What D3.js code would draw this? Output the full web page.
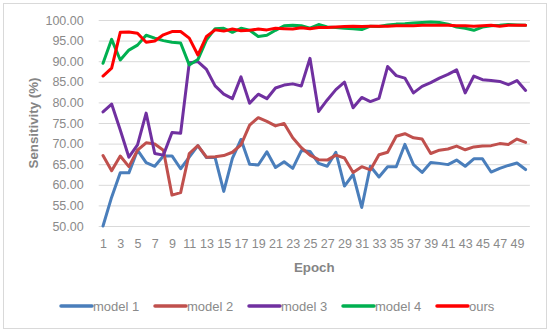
<!DOCTYPE html>
<html>
<head>
<meta charset="utf-8">
<script src="https://cdn.jsdelivr.net/npm/d3@7"></script>
<style>
  body { margin: 0; background: #fff; }
  text { font-family: "Liberation Sans", Arial, sans-serif; }
</style>
</head>
<body>
<div id="chart"></div>
<script>
// epochs on the category axis
const epochs = [1, 2, 3, 4, 5, 6, 7, 8, 9, 10, 11, 12, 13, 14, 15, 16, 17, 18, 19, 20,
  21, 22, 23, 24, 25, 26, 27, 28, 29, 30, 31, 32, 33, 34, 35, 36, 37, 38, 39, 40,
  41, 42, 43, 44, 45, 46, 47, 48, 49, 50];

const model1 = [50.0, 57.0, 62.9, 62.9, 68.4, 65.4, 64.5, 67.0, 67.0, 63.9,
  66.7, 69.5, 66.6, 66.6, 58.4, 66.4, 71.0, 65.0, 64.8, 68.0,
  64.2, 65.6, 64.0, 68.3, 68.1, 65.2, 64.5, 67.9, 59.7, 62.5,
  54.5, 64.5, 61.9, 64.4, 64.4, 69.8, 64.9, 63.0, 65.4, 65.2,
  64.9, 66.0, 64.5, 66.3, 66.3, 63.1, 64.0, 64.7, 65.3, 63.7];

const model2 = [67.1, 63.4, 67.0, 64.4, 68.4, 70.2, 69.9, 68.4, 57.5, 58.1,
  67.6, 69.5, 66.7, 66.8, 67.1, 67.9, 69.7, 74.5, 76.3, 75.4,
  74.3, 74.9, 71.4, 69.0, 67.2, 66.1, 66.0, 67.2, 66.5, 63.0,
  64.4, 63.6, 67.3, 67.9, 71.8, 72.4, 71.4, 71.1, 67.6, 68.4,
  68.7, 69.4, 68.5, 69.2, 69.4, 69.5, 70.0, 69.8, 71.1, 70.3];

const model3 = [77.7, 79.6, 73.3, 66.7, 69.7, 77.4, 67.6, 67.2, 72.7, 72.5,
  89.6, 89.9, 88.0, 84.0, 82.0, 80.9, 86.2, 79.8, 82.0, 80.9,
  83.5, 84.2, 84.5, 84.0, 90.7, 77.8, 80.6, 83.1, 84.9, 78.7,
  81.2, 80.2, 81.0, 88.7, 86.5, 85.9, 82.3, 83.9, 84.8, 85.9,
  86.8, 87.9, 82.3, 86.4, 85.5, 85.3, 85.1, 84.3, 85.3, 82.9];

const model4 = [89.5, 95.3, 90.3, 92.7, 93.9, 96.3, 95.6, 95.0, 94.6, 94.4,
  89.1, 90.4, 95.2, 97.9, 98.0, 97.0, 98.0, 97.5, 96.0, 96.3,
  97.5, 98.6, 98.7, 98.6, 98.0, 98.9, 98.3, 98.2, 98.0, 97.9,
  97.7, 98.5, 98.4, 98.8, 99.0, 99.1, 99.3, 99.4, 99.5, 99.4,
  99.0, 98.3, 98.0, 97.5, 98.3, 98.6, 98.7, 98.9, 98.8, 98.7];

const ours = [86.4, 88.3, 97.0, 97.1, 96.8, 94.6, 94.9, 96.4, 97.2, 97.2,
  95.6, 91.5, 96.0, 97.6, 97.3, 97.8, 97.4, 97.5, 97.8, 97.6,
  98.0, 97.9, 97.8, 98.1, 97.9, 98.2, 98.2, 98.3, 98.4, 98.5,
  98.4, 98.5, 98.5, 98.5, 98.6, 98.6, 98.6, 98.7, 98.7, 98.7,
  98.7, 98.6, 98.6, 98.5, 98.6, 98.7, 98.5, 98.7, 98.7, 98.7];

const seriesNames = ["model 1", "model 2", "model 3", "model 4", "ours"];
const yTicks = [50, 55, 60, 65, 70, 75, 80, 85, 90, 95, 100];
const xTicks = epochs.filter(e => e % 2 === 1);

const colors = {
  "model 1": "#4a7ebb",
  "model 2": "#c0504d",
  "model 3": "#7030a0",
  "model 4": "#00b050",
  "ours": "#ff0000"
};

const series = [model1, model2, model3, model4, ours].map((vals, i) => ({
  name: seriesNames[i],
  values: vals.map((v, j) => ({epoch: epochs[j], value: v}))
}));

const width = 550, height = 332;
const plot = {left: 98.7, right: 529.9, top: 20, bottom: 226};

const svg = d3.select("#chart").append("svg")
  .attr("width", width)
  .attr("height", height);

// chart border
svg.append("rect")
  .attr("x", 3.5).attr("y", 3.5)
  .attr("width", 543).attr("height", 325)
  .attr("fill", "#fff")
  .attr("stroke", "#d9d9d9");

const x = d3.scalePoint()
  .domain(epochs)
  .range([plot.left, plot.right])
  .padding(0.5);

const y = d3.scaleLinear()
  .domain([50, 100])
  .range([plot.bottom, plot.top]);

// gridlines + y labels
const yAxis = svg.append("g")
  .attr("transform", `translate(${plot.left},0)`)
  .call(d3.axisLeft(y)
    .tickValues(yTicks)
    .tickFormat(d3.format(".2f"))
    .tickSize(-(plot.right - plot.left))
    .tickPadding(15));
yAxis.select(".domain").remove();
yAxis.selectAll("line").attr("stroke", "#d9d9d9");
yAxis.selectAll("text")
  .attr("fill", "#8a8a8a")
  .style("font-size", "12.5px");

// x labels
const xAxis = svg.append("g")
  .attr("transform", `translate(0,${plot.bottom})`)
  .call(d3.axisBottom(x)
    .tickValues(xTicks)
    .tickSize(0)
    .tickPadding(13));
xAxis.select(".domain").remove();
xAxis.selectAll("text")
  .attr("fill", "#8a8a8a")
  .style("font-size", "12.5px");

// axis titles
svg.append("text")
  .attr("x", (plot.left + plot.right) / 2)
  .attr("y", 272)
  .attr("text-anchor", "middle")
  .attr("fill", "#858585")
  .style("font-size", "13.3px")
  .style("font-weight", "bold")
  .text("Epoch");

svg.append("text")
  .attr("transform", `translate(38,${(plot.top + plot.bottom) / 2}) rotate(-90)`)
  .attr("text-anchor", "middle")
  .attr("fill", "#858585")
  .style("font-size", "13.3px")
  .style("font-weight", "bold")
  .text("Sensitivity (%)");

// lines
const line = d3.line()
  .x(d => x(d.epoch))
  .y(d => y(d.value));

svg.append("g")
  .selectAll("path")
  .data(series)
  .join("path")
    .attr("fill", "none")
    .attr("stroke", d => colors[d.name])
    .attr("stroke-width", 3)
    .attr("stroke-linejoin", "round")
    .attr("stroke-linecap", "round")
    .attr("d", d => line(d.values));

// legend
const legend = svg.append("g")
  .attr("transform", "translate(61,306)");

const item = legend.selectAll("g")
  .data(seriesNames)
  .join("g")
    .attr("transform", (d, i) => `translate(${i * 94},0)`);

item.append("line")
  .attr("x1", 0).attr("x2", 31)
  .attr("stroke", d => colors[d])
  .attr("stroke-width", 3.5)
  .attr("stroke-linecap", "round");

item.append("text")
  .attr("x", 32)
  .attr("dy", "0.35em")
  .attr("fill", "#8a8a8a")
  .style("font-size", "13px")
  .text(d => d);
</script>
</body>
</html>
